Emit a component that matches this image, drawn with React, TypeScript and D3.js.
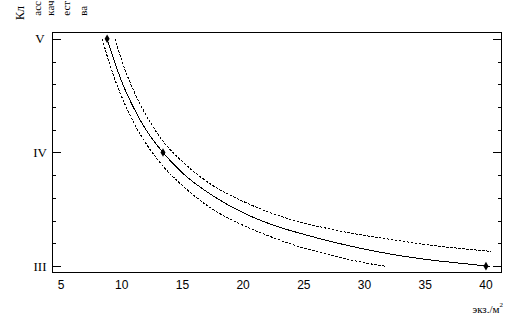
import React from "react";
import * as d3 from "d3";

// Fitted (solid) curve: density (экз./м²) vs quality class
const solidX = [8.8, 9.5, 10, 11, 12, 13.4, 15, 17.5, 20, 22.5, 25, 27.5, 30, 32.5, 35, 37.5, 40, 40.3];
const solidY = [5.0, 4.77, 4.625, 4.39, 4.2, 4.0, 3.82, 3.62, 3.47, 3.36, 3.28, 3.21, 3.15, 3.1, 3.06, 3.03, 3.0, 2.995];
// Upper dashed band
const upperX = [9.45, 10, 11, 12, 13.4, 15, 17.5, 20, 22.5, 25, 27.5, 30, 32.5, 35, 37.5, 40.4];
const upperY = [5.0, 4.81, 4.54, 4.33, 4.1, 3.92, 3.71, 3.57, 3.46, 3.38, 3.32, 3.27, 3.23, 3.19, 3.16, 3.13];
// Lower dashed band
const lowerX = [8.4, 9, 10, 11, 12, 13.4, 15, 17.5, 20, 22.5, 25, 27.5, 30, 31.7];
const lowerY = [5.0, 4.78, 4.49, 4.26, 4.08, 3.88, 3.71, 3.5, 3.36, 3.25, 3.16, 3.09, 3.03, 3.0];
// Observed points
const pointX = [8.8, 13.4, 40];
const pointY = [5, 4, 3];

const xTicks = [5, 10, 15, 20, 25, 30, 35, 40];
const yTicks = [3, 4, 5];
const yTickLabels = ["III", "IV", "V"];
const titleParts = ["Кл", "асс", "кач", "ест", "ва"];
const xAxisLabel = "экз./м";

export default function App() {
  const W = 526, H = 317;
  const L = 52, R = 502, T = 32, B = 273;
  const x = d3.scaleLinear().domain([4.26, 41.32]).range([L, R]);
  const y = d3.scaleLinear().domain([2.94, 5.06]).range([B, T]);

  const line = d3
    .line<[number, number]>()
    .x((d) => x(d[0]))
    .y((d) => y(d[1]))
    .curve(d3.curveMonotoneX);

  const zip = (a: number[], b: number[]) => a.map((v, i) => [v, b[i]] as [number, number]);

  const minor: number[] = [];
  for (let i = 0; i <= 10; i++) {
    const v = 3 + i * 0.2;
    if (Math.abs(v - Math.round(v)) > 1e-6) minor.push(v);
  }

  const diamond = d3.symbol().type(d3.symbolDiamond).size(22)();

  const titleX = [23.5, 40.5, 53.5, 69.5, 86.5];
  const titleY = [20, 15.7, 15.7, 15.7, 15.7];
  const titleSize = [12, 11, 11, 11, 11];

  return (
    <svg
      width={W}
      height={H}
      style={{ position: "absolute", left: 0, top: 0, background: "#fff" }}
      fontFamily="'Liberation Serif', serif"
    >
      <rect width={W} height={H} fill="#fff" />
      {/* title parts (rotated) */}
      {titleParts.map((t, i) => (
        <text
          key={i}
          transform={`translate(${titleX[i]},${titleY[i]}) rotate(-90)`}
          fontSize={titleSize[i]}
          fill="#000"
        >
          {t}
        </text>
      ))}
      {/* frame */}
      <rect
        x={L + 0.5}
        y={T + 0.5}
        width={R - L - 1}
        height={B - T - 1}
        fill="none"
        stroke="#000"
        strokeWidth={1.3}
        shapeRendering="crispEdges"
      />
      {/* y ticks */}
      <g stroke="#000" strokeWidth={1} shapeRendering="crispEdges">
        {yTicks.map((v) => (
          <g key={"M" + v}>
            <line x1={L} x2={L + 9} y1={Math.round(y(v)) + 0.5} y2={Math.round(y(v)) + 0.5} />
            <line x1={R - 9} x2={R} y1={Math.round(y(v)) + 0.5} y2={Math.round(y(v)) + 0.5} />
          </g>
        ))}
        {minor.map((v) => (
          <g key={"m" + v}>
            <line x1={L} x2={L + 4} y1={Math.round(y(v)) + 0.5} y2={Math.round(y(v)) + 0.5} />
            <line x1={R - 4} x2={R} y1={Math.round(y(v)) + 0.5} y2={Math.round(y(v)) + 0.5} />
          </g>
        ))}
      </g>
      {/* y tick labels */}
      {yTicks.map((v, i) => (
        <text key={"yl" + v} x={40} y={y(v) + 4.5} textAnchor="middle" fontSize={13} fill="#000">
          {yTickLabels[i]}
        </text>
      ))}
      {/* x tick labels */}
      {xTicks.map((v) => (
        <text
          key={"xl" + v}
          x={x(v)}
          y={289}
          textAnchor="middle"
          fontSize={12}
          fontFamily="'Liberation Sans', Arial, sans-serif"
          fill="#000"
        >
          {v}
        </text>
      ))}
      {/* x axis label */}
      <text x={503} y={313} textAnchor="end" fontSize={11} fill="#000">
        {xAxisLabel}
        <tspan fontSize={7} dy={-6}>2</tspan>
      </text>
      {/* curves */}
      <g shapeRendering="crispEdges" fill="none" stroke="#000">
        <path d={line(zip(lowerX, lowerY)) || ""} strokeWidth={1} strokeDasharray="2.5,1.5" />
        <path d={line(zip(upperX, upperY)) || ""} strokeWidth={1} strokeDasharray="2.5,1.5" />
        <path d={line(zip(solidX, solidY)) || ""} strokeWidth={1} />
      </g>
      {/* points */}
      {pointX.map((v, i) => (
        <path key={"p" + i} d={diamond || ""} transform={`translate(${x(v)},${y(pointY[i])})`} fill="#000" />
      ))}
    </svg>
  );
}
